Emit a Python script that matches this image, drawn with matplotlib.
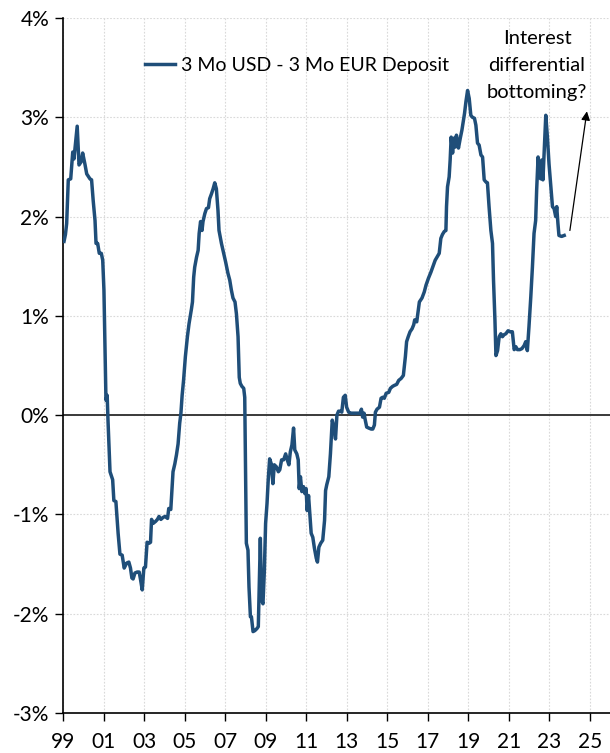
import matplotlib
matplotlib.use("Agg")
import matplotlib.pyplot as plt
from matplotlib.ticker import FixedLocator, FuncFormatter

plt.rcParams['font.family'] = ['Lato', 'DejaVu Sans']

# 3M USD minus 3M EUR deposit rate spread, % (decimal year)
dates = [
    1999.05, 1999.12, 1999.18, 1999.26, 1999.38, 1999.48, 1999.54, 1999.62, 1999.70, 1999.79,
    1999.89, 1999.97, 2000.08, 2000.17, 2000.33, 2000.41, 2000.49, 2000.58, 2000.63, 2000.71,
    2000.79, 2000.89, 2000.96, 2001.02, 2001.07, 2001.12, 2001.18, 2001.22, 2001.32, 2001.45,
    2001.51, 2001.61, 2001.72, 2001.81, 2001.92, 2002.02, 2002.14, 2002.25, 2002.33, 2002.40,
    2002.46, 2002.55, 2002.66, 2002.76, 2002.83, 2002.91, 2002.99, 2003.07, 2003.15, 2003.25,
    2003.32, 2003.37, 2003.45, 2003.57, 2003.66, 2003.74, 2003.83, 2003.94, 2004.04, 2004.16,
    2004.22, 2004.32, 2004.43, 2004.52, 2004.60, 2004.68, 2004.76, 2004.82, 2004.88, 2004.95,
    2005.04, 2005.14, 2005.22, 2005.34, 2005.39, 2005.45, 2005.50, 2005.59, 2005.67, 2005.72,
    2005.79, 2005.86, 2005.91, 2006.00, 2006.08, 2006.18, 2006.24, 2006.33, 2006.41, 2006.49,
    2006.57, 2006.65, 2006.70, 2006.82, 2006.93, 2007.03, 2007.14, 2007.23, 2007.31, 2007.39,
    2007.49, 2007.56, 2007.64, 2007.70, 2007.75, 2007.83, 2007.92, 2007.97, 2008.01, 2008.05,
    2008.13, 2008.18, 2008.25, 2008.30, 2008.38, 2008.47, 2008.57, 2008.64, 2008.74, 2008.80,
    2008.87, 2008.94, 2009.00, 2009.07, 2009.13, 2009.20, 2009.28, 2009.36, 2009.43, 2009.53,
    2009.63, 2009.70, 2009.79, 2009.89, 2009.99, 2010.07, 2010.15, 2010.22, 2010.30, 2010.38,
    2010.44, 2010.54, 2010.61, 2010.66, 2010.72, 2010.79, 2010.87, 2010.94, 2011.00, 2011.05,
    2011.12, 2011.17, 2011.25, 2011.33, 2011.41, 2011.50, 2011.56, 2011.63, 2011.72, 2011.82,
    2011.91, 2011.96, 2012.02, 2012.12, 2012.20, 2012.29, 2012.37, 2012.45, 2012.52, 2012.60,
    2012.70, 2012.76, 2012.84, 2012.93, 2013.00, 2013.10, 2013.22, 2013.38, 2013.55, 2013.66,
    2013.73, 2013.79, 2013.86, 2013.91, 2013.99, 2014.09, 2014.21, 2014.29, 2014.37, 2014.42,
    2014.50, 2014.62, 2014.70, 2014.78, 2014.86, 2014.95, 2015.08, 2015.16, 2015.27, 2015.36,
    2015.47, 2015.57, 2015.69, 2015.80, 2015.90, 2015.96, 2016.04, 2016.13, 2016.23, 2016.31,
    2016.36, 2016.46, 2016.51, 2016.59, 2016.72, 2016.83, 2016.92, 2017.04, 2017.16, 2017.28,
    2017.37, 2017.57, 2017.65, 2017.73, 2017.82, 2017.90, 2017.93, 2017.98, 2018.06, 2018.11,
    2018.16, 2018.23, 2018.30, 2018.36, 2018.42, 2018.52, 2018.61, 2018.69, 2018.75, 2018.82,
    2018.89, 2018.97, 2019.05, 2019.13, 2019.21, 2019.31, 2019.38, 2019.46, 2019.54, 2019.63,
    2019.71, 2019.79, 2019.87, 2019.95, 2020.03, 2020.12, 2020.20, 2020.25, 2020.32, 2020.37,
    2020.45, 2020.53, 2020.61, 2020.69, 2020.77, 2020.86, 2020.97, 2021.07, 2021.18, 2021.27,
    2021.35, 2021.43, 2021.55, 2021.65, 2021.76, 2021.84, 2021.92, 2022.00, 2022.09, 2022.17,
    2022.25, 2022.33, 2022.38, 2022.45, 2022.50, 2022.58, 2022.63, 2022.69, 2022.76, 2022.83,
    2022.91, 2022.99, 2023.08, 2023.16, 2023.24, 2023.32, 2023.37, 2023.43, 2023.48, 2023.61,
    2023.74,
]
spread = [
    1.75, 1.82, 1.93, 2.37, 2.38, 2.65, 2.58, 2.75, 2.91, 2.52,
    2.55, 2.64, 2.53, 2.43, 2.38, 2.37, 2.16, 1.96, 1.73, 1.73,
    1.63, 1.63, 1.56, 1.26, 0.72, 0.15, 0.20, -0.05, -0.57, -0.65,
    -0.86, -0.87, -1.19, -1.40, -1.41, -1.54, -1.49, -1.48, -1.54, -1.64,
    -1.65, -1.59, -1.58, -1.58, -1.66, -1.76, -1.54, -1.53, -1.28, -1.29,
    -1.28, -1.05, -1.09, -1.07, -1.05, -1.02, -1.05, -1.03, -1.02, -1.04,
    -0.94, -0.95, -0.57, -0.49, -0.40, -0.29, -0.08, 0.02, 0.20, 0.35,
    0.59, 0.79, 0.92, 1.07, 1.14, 1.39, 1.49, 1.59, 1.66, 1.83,
    1.95, 1.86, 1.95, 2.03, 2.08, 2.09, 2.18, 2.23, 2.28, 2.34,
    2.28, 2.06, 1.86, 1.73, 1.63, 1.54, 1.43, 1.36, 1.26, 1.18,
    1.14, 1.02, 0.79, 0.38, 0.32, 0.29, 0.27, 0.18, -0.55, -1.29,
    -1.36, -1.73, -2.03, -2.03, -2.18, -2.17, -2.15, -2.13, -1.24, -1.86,
    -1.90, -1.56, -1.09, -0.89, -0.65, -0.44, -0.49, -0.69, -0.50, -0.52,
    -0.57, -0.55, -0.45, -0.45, -0.39, -0.45, -0.50, -0.37, -0.30, -0.13,
    -0.35, -0.39, -0.45, -0.74, -0.62, -0.77, -0.72, -0.79, -0.74, -0.96,
    -0.81, -0.96, -1.19, -1.23, -1.34, -1.44, -1.48, -1.33, -1.29, -1.26,
    -1.06, -0.76, -0.70, -0.62, -0.39, -0.05, -0.12, -0.24, 0.00, 0.04,
    0.04, 0.03, 0.18, 0.20, 0.08, 0.03, 0.02, 0.02, 0.02, 0.02,
    0.06, -0.02, 0.02, -0.04, -0.12, -0.13, -0.14, -0.14, -0.10, 0.03,
    0.06, 0.08, 0.17, 0.18, 0.17, 0.22, 0.23, 0.27, 0.29, 0.30,
    0.31, 0.35, 0.37, 0.40, 0.59, 0.74, 0.79, 0.84, 0.87, 0.91,
    0.96, 0.94, 1.02, 1.14, 1.18, 1.24, 1.31, 1.38, 1.44, 1.51,
    1.56, 1.63, 1.78, 1.82, 1.85, 1.86, 2.10, 2.30, 2.40, 2.57,
    2.80, 2.64, 2.79, 2.70, 2.82, 2.69, 2.79, 2.87, 2.95, 3.04,
    3.16, 3.27, 3.19, 3.02, 3.00, 2.99, 2.92, 2.74, 2.72, 2.62,
    2.60, 2.37, 2.35, 2.34, 2.10, 1.86, 1.73, 1.36, 0.96, 0.60,
    0.65, 0.79, 0.82, 0.79, 0.81, 0.82, 0.85, 0.84, 0.84, 0.66,
    0.69, 0.66, 0.66, 0.67, 0.70, 0.74, 0.65, 0.89, 1.19, 1.49,
    1.83, 1.96, 2.27, 2.60, 2.40, 2.38, 2.57, 2.37, 2.70, 3.02,
    2.80, 2.53, 2.30, 2.10, 2.08, 2.00, 2.10, 1.93, 1.81, 1.80,
    1.81,
]

x_ticks = list(range(1999, 2026, 2))
x_tick_labels = ['99', '01', '03', '05', '07', '09', '11', '13', '15', '17', '19', '21', '23', '25']
y_ticks = [-3, -2, -1, 0, 1, 2, 3, 4]

series_label = '3 Mo USD - 3 Mo EUR Deposit'
note_text = 'Interest\ndifferential\nbottoming?'
note_pos = (2022.4, 3.88)
arrow_tail = (2024.02, 1.86)
arrow_head = (2024.86, 3.06)

line_color = '#1f4e79'

fig = plt.figure(figsize=(6.10, 7.53), dpi=100)
ax = fig.add_axes([0.1033, 0.0531, 0.8967, 0.923])

ax.set_xlim(1999, 2026)
ax.set_ylim(-3, 4)

# dotted grid
ax.xaxis.set_major_locator(FixedLocator(x_ticks))
ax.yaxis.set_major_locator(FixedLocator(y_ticks))
ax.grid(True, which='major', color='#d9d9d9', linestyle=(0, (1.5, 1.5)), linewidth=0.8)
ax.set_axisbelow(True)

ax.axhline(0, color='#3a3a3a', linewidth=1.4, zorder=2)

ax.plot(dates, spread, color=line_color, linewidth=2.5, solid_joinstyle='round',
        label=series_label, zorder=3)

ax.set_xticklabels(x_tick_labels)
ax.yaxis.set_major_formatter(FuncFormatter(lambda v, p: f'{int(v)}%'))

for side in ('top', 'right'):
    ax.spines[side].set_visible(False)
for side in ('left', 'bottom'):
    ax.spines[side].set_color('black')
    ax.spines[side].set_linewidth(1.2)

ax.tick_params(axis='both', direction='out', length=6, width=1.0, color='black',
               labelsize=15, labelcolor='black')
ax.tick_params(axis='x', pad=8)
ax.tick_params(axis='y', pad=4)

leg = ax.legend(loc='center left', bbox_to_anchor=(0.150, 0.932), frameon=False,
                fontsize=14, handlelength=1.55, handletextpad=0.3,
                borderpad=0, borderaxespad=0)

ax.text(note_pos[0], note_pos[1], note_text, ha='center', va='top', fontsize=14.5,
        linespacing=1.72, color='black')
ax.annotate('', xy=arrow_head, xytext=arrow_tail,
            arrowprops=dict(arrowstyle='-|>', color='black', lw=0.9,
                            mutation_scale=13, shrinkA=0, shrinkB=0))

fig.savefig('out.png', dpi=100)
